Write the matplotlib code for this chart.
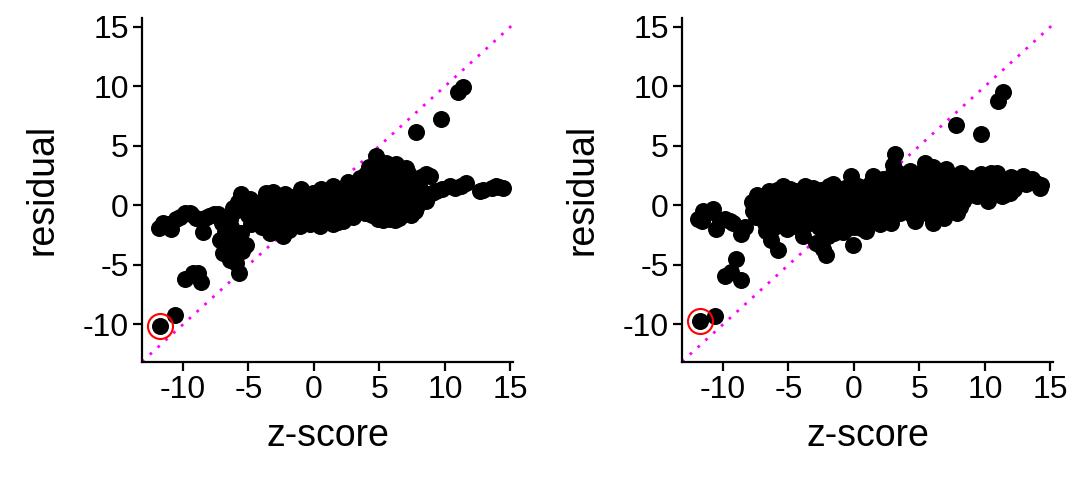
import matplotlib.pyplot as plt

# --- left panel: z-score vs residual ---
left_x = [
    -11.73, -10.64, -9.87, -9.24, -8.85, -8.6, -5.73,
    -11.83, -11.53, -11.2, -10.9, -10.5, -10.2, -9.87, -9.5, -9.36, -9.0,
    -8.47, -8.35, -8.0, -7.6, -7.3, -7.0,
    -7.2, -6.95, -6.44, -5.93, -5.55, -5.17, -6.7, -6.2, -6.5, -6.0, -5.8,
    -6.8, -6.3, -5.5, -6.1,
    -5.55, -6.2, -6.44, -6.0, -5.3, -5.0, -4.7, -4.4, -4.2, -5.8, -4.8, -4.0,
    -3.64, -3.13, -2.24, -0.97, -3.9, -3.5, -3.2, -3.0, -2.8, -2.6, -2.37,
    -2.2, -2.0, -1.8, -1.5, -1.3, -1.0, -0.8, -0.5, -0.3, -3.38, -2.9, -1.9,
    -0.1, 0.2, -1.2, -2.5, -3.7,
    -4.9, -4.6, -4.3, -3.9, -3.6, -3.4, -3.1, -2.7, -2.4, -2.1, -1.7, -1.4,
    -1.1, -0.7, -0.4, -0.2, 0.1, 0.4, 0.7, 1.1, 1.4, 1.8, 2.0, 2.4, 2.8,
    3.2, 3.7, 4.1,
    0.56, 1.45, 0.43, 1.45, 0.5, 0.8, 1.0, 1.2, 1.6, 1.9, 2.1, 2.3, 2.5,
    2.7, 2.9, 3.1, 3.3, 3.49, 3.6, 3.8, 3.9, 2.2, 3.0, 1.7, 0.0, 0.3, 2.6,
    3.5, 4.0, 4.0,
    4.76, 5.52, 6.28, 7.05, 8.58, 8.83, 4.89, 5.78, 7.68, 8.07, 8.58, 6.54,
    4.3, 4.5, 4.6, 4.8, 5.0, 5.1, 5.2, 5.3, 5.4, 5.5, 5.6, 5.7, 5.8, 5.9,
    6.0, 6.1, 6.2, 6.3, 6.4, 6.5, 6.6, 6.7, 6.8, 6.9, 7.0, 7.2, 7.3, 7.5,
    7.7, 7.8, 8.0, 8.2, 8.4, 5.0, 6.0, 4.4, 5.3, 6.2, 7.4, 7.1, 4.2, 5.9, 6.8,
    10.36, 11.63, 12.65, 13.92, 14.43, 13.6, 9.3, 9.8, 10.8, 11.2, 12.9,
    14.1, 9.0,
    7.81, 9.72, 10.99, 11.37,
]
left_y = [
    -10.1, -9.24, -6.18, -5.67, -5.67, -6.46, -5.67,
    -1.88, -1.46, -1.6, -2.02, -1.18, -1.0, -0.67, -0.6, -0.76, -1.1,
    -2.25, -1.04, -0.9, -0.76, -0.7, -1.5,
    -2.87, -3.99, -4.55, -4.83, -2.3, -3.29, -3.43, -3.15, -2.6, -2.2, -3.6,
    -2.2, -1.8, -3.8, -4.0,
    0.93, -0.2, -1.18, -0.5, -0.3, -0.8, -0.2, -1.2, -0.5, 0.3, -1.6, -1.8,
    1.07, 1.12, 0.93, 1.35, 0.2, -0.4, -1.0, -1.6, -0.2, 0.5, -2.58,
    -1.2, -0.5, 0.3, -1.3, -0.2, 0.6, -0.8, 0.2, -1.6, -2.3, -2.0, -2.1,
    1.0, -0.4, -0.9, -0.9, -1.2,
    0.5, -1.0, 0.2, -0.9, 0.4, -1.6, 0.0, -1.4, 0.2, -1.9, -0.8, 0.8,
    -1.7, 0.4, -0.9, 0.6, -1.2, 1.1, -1.3, -1.0, 0.9, -1.4, 0.4, -1.0, 1.2,
    0.5, -0.3, 1.6,
    1.35, 1.63, -1.74, -1.6, 0.3, -0.6, 0.8, -0.2, 0.4, -0.8, 1.0, 0.1, 1.6,
    -0.5, 0.7, 1.5, -0.2, 2.33, 0.9, 1.8, -0.6, -1.3, -1.0, 1.3, 0.0, 0.7, 2.0,
    0.2, 0.4, 2.6,
    4.16, 3.6, 3.46, 3.17, 2.61, 2.47, -1.18, -1.18, -0.48, 0.51, 0.37, -0.9,
    1.2, 0.0, 2.5, 3.0, 1.6, -0.5, 0.7, 2.4, 3.0, -0.9, 1.2, 0.1, 2.0, 3.1,
    -0.4, 0.9, 1.8, 2.8, 0.3, -1.1, 1.4, 2.4, 0.6, -0.3, 1.9, 2.7, 0.2, 1.3,
    2.2, -0.2, 1.7, 2.4, 1.0, 2.7, 3.3, -0.8, -1.2, -1.2, -0.8, -0.6, 3.2, 1.5, 1.2,
    1.63, 1.91, 1.21, 1.63, 1.49, 1.5, 1.2, 1.4, 1.5, 1.6, 1.3,
    1.55, 1.0,
    6.18, 7.25, 9.49, 9.92,
]

# --- right panel ---
right_x = [
    -11.73, -10.64, -9.87, -9.36, -8.6, -8.98, -5.8, -0.08, -2.11, -2.37, -2.6,
    -11.9, -11.53, -11.2, -10.76, -10.5, -10.2, -9.87, -9.5, -9.24, -11.6,
    -8.6, -8.3,
    -7.71, -7.5, -7.2, -6.9, -6.69, -6.44, -6.31, -6.2, -6.0, -5.8, -5.6,
    -5.42, -5.3, -5.0, -4.8, -4.6, -4.4, -4.2, -4.0, -6.6, -5.1,
    -3.89, -3.77, -3.6, -3.4, -3.2, -3.0, -2.88, -2.7, -2.5, -2.3, -2.1,
    -1.9, -1.6, -1.6, -1.4, -1.2, -1.0, -0.8, -0.59, -0.5, -0.2, -0.3, -3.5, -2.0,
    -7.8, -7.4, -7.0, -6.8, -6.5, -6.2, -5.9, -5.7, -5.4, -5.2, -4.9, -4.7,
    -4.5, -4.3, -4.1, -3.8, -3.6, -3.3, -3.1, -2.9, -2.7, -2.5, -2.3, -2.1,
    -1.9, -1.7, -1.5, -1.3, -1.1, -0.9, -0.7, -0.4, -0.2,
    0.2, 0.4, 0.6, 0.8, 0.94, 1.0, 1.2, 1.45, 1.5, 1.7, 1.9, 2.1, 2.3, 2.5,
    2.7, 2.85, 2.98, 3.1, 3.2, 3.4, 3.6, 3.8, 4.0, 2.0, 0.0, 3.0,
    0.1, 0.3, 0.5, 0.7, 0.9, 1.1, 1.3, 1.6, 1.8, 2.0, 2.2, 2.4, 2.6, 2.8,
    3.0, 3.3, 3.5, 3.7, 3.9, 4.1, 4.3, 4.6, 4.9, 5.1, 5.4, 5.6, 5.8, 6.1,
    6.3, 6.5, 6.7, 7.0, 7.3, 7.5, 7.8, 8.1, 8.4, 8.7,
    4.2, 4.4, 4.63, 4.8, 5.0, 5.2, 5.39, 5.5, 5.7, 5.9, 6.03, 6.2, 6.4, 6.6,
    6.8, 7.05, 7.2, 7.4, 7.56, 7.7, 8.0, 8.19, 8.32, 8.5, 8.8, 8.96, 6.0,
    5.3, 4.5, 6.9, 7.9,
    9.2, 9.5, 10.23, 10.48, 10.7, 11.0, 11.3, 11.63, 11.76, 12.2, 12.9, 13.3,
    13.92, 14.17, 9.9, 10.1,
    9.0, 9.4, 9.7, 10.4, 10.9, 11.2, 11.9, 12.5, 13.1, 13.6, 14.3, 12.0,
    7.81, 9.72, 10.99, 11.37,
]
right_y = [
    -9.75, -9.27, -5.96, -5.62, -6.29, -4.49, -3.76, -3.29, -4.13, -3.7, -3.3,
    -1.18, -0.48, -0.6, -0.34, -2.02, -1.2, -1.12, -1.3, -1.46, -1.3,
    -2.44, -1.8,
    -0.48, -1.0, -0.2, -0.8, -2.16, 0.65, -2.87, -0.4, 0.2, -1.3, 1.0,
    1.63, -0.6, 0.4, -1.6, -0.2, 1.2, -1.0, 0.0, -1.5, -2.0,
    -2.58, 1.63, 0.5, -1.2, -0.3, 0.9, -3.15, -1.8, 1.3, 0.1, -0.9,
    1.6, 1.77, -1.4, 0.4, -0.5, 1.0, -2.2, -2.02, 0.3, 2.47, -1.0, 1.0, -2.6,
    0.3, 0.9, 0.5, -1.5, 1.2, -1.9, 1.3, -0.5, 0.3, -1.3, 1.4, 0.8,
    -0.7, -1.8, 0.6, -0.6, -1.6, 0.3, 1.5, -0.8, 0.6, -1.2, 1.0, 0.4,
    -0.4, 0.9, -2.3, 1.3, -1.5, 0.0, 1.5, -0.5, 0.8,
    0.6, -0.6, 1.2, -1.4, -2.16, 0.2, 1.8, 2.47, -0.8, 0.5, 1.3, -0.3, 0.9, 2.0,
    -0.8, -1.46, 2.75, 4.3, 1.5, 0.0, 2.4, 0.8, -0.5, -1.6, -1.8, 3.4,
    -0.9, 1.6, -1.9, 0.5, 1.1, -0.5, 0.6, 1.5, -0.2, 0.8, 2.2, -1.1, 0.4, 1.7,
    0.2, 2.8, -0.6, 1.2, 2.1, 0.1, 2.9, 1.1, -0.4, 2.0, 0.5, 2.7, -0.8, 1.6,
    0.1, 2.5, 1.0, -0.3, 2.2, 0.9, 1.9, -0.1, 2.5, 1.5,
    1.8, 0.4, -1.32, 2.2, 0.9, -0.4, 3.6, 1.5, 0.0, 2.6, -1.46, 0.7, 1.9, -0.8,
    2.9, 3.03, 0.5, 1.7, -0.34, 2.4, 1.2, 2.75, 0.37, 1.8, 0.9, 2.33, 3.2,
    2.9, -0.9, -1.1, -0.6,
    1.4, 2.0, 0.37, 2.75, 1.6, 2.2, 0.8, 0.93, 1.77, 1.4, 2.47, 2.0,
    1.91, 1.49, 1.0, 2.4,
    1.8, 0.8, 2.6, 1.2, 2.7, 1.9, 1.0, 2.2, 1.8, 2.2, 1.7, 2.4,
    6.74, 5.98, 8.79, 9.49,
]

# the highlighted point in each panel
left_hl = (-11.73, -10.1)
right_hl = (-11.73, -9.75)

diag = [-13.13, 15.25]
ticks = [-10, -5, 0, 5, 10, 15]

plt.rcParams['font.family'] = ['Liberation Sans', 'DejaVu Sans']
plt.rcParams['axes.unicode_minus'] = False

fig = plt.figure(figsize=(10.8, 4.8), dpi=100)
ax1 = fig.add_axes([0.1315, 0.246, 0.3435, 0.717])
ax2 = fig.add_axes([0.6315, 0.246, 0.3435, 0.717])

for ax, xs, ys, hl in [(ax1, left_x, left_y, left_hl),
                       (ax2, right_x, right_y, right_hl)]:
    ax.plot(diag, diag, color='#ff00ff', lw=2, dashes=(1, 2.8), zorder=1)
    ax.scatter(xs, ys, s=150, color='black', linewidths=0, zorder=2)
    ax.plot(hl[0], hl[1], 'o', ms=18, mfc='none', mec='red', mew=1.5, zorder=3)

    ax.set_xlim(-13.13, 15.2)
    ax.set_ylim(-13.15, 15.76)
    ax.set_xticks(ticks)
    ax.set_yticks(ticks)
    ax.spines['top'].set_visible(False)
    ax.spines['right'].set_visible(False)
    ax.spines['left'].set_linewidth(1.6)
    ax.spines['bottom'].set_linewidth(1.6)
    ax.tick_params(length=6.5, width=1.6, labelsize=23, pad=3)
    ax.set_xlabel('z-score', fontsize=27, labelpad=9)
    ax.set_ylabel('residual', fontsize=27, labelpad=16)

fig.savefig('out.png', dpi=100)
